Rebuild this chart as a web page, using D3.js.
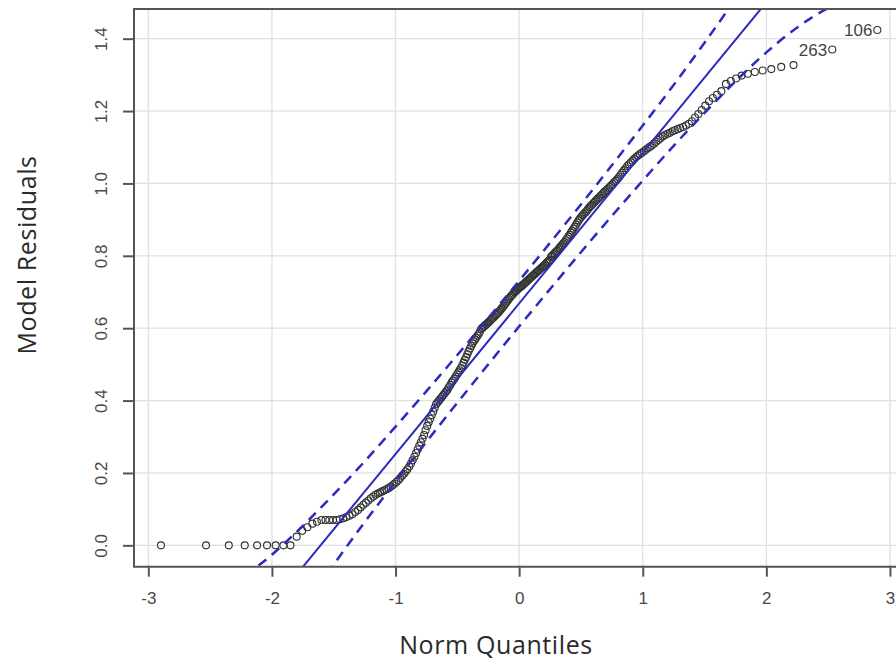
<!DOCTYPE html>
<html>
<head>
<meta charset="utf-8">
<script src="https://cdn.jsdelivr.net/npm/d3@7"></script>
<style>
  html, body { margin: 0; padding: 0; background: #ffffff; }
  svg { display: block; }
</style>
</head>
<body>
<div id="chart"></div>
<script>
// ---------------- DATA ----------------
// Theoretical normal quantiles (x) of the sorted residuals
const normQuantiles = [
  -2.898,-2.533,-2.349,-2.22,-2.12,-2.04,-1.97,-1.907,-1.85,-1.80,
  -1.755,-1.713,-1.673,-1.636,-1.60,-1.567,-1.536,-1.506,-1.477,-1.45,
  -1.423,-1.398,-1.373,-1.349,-1.326,-1.303,-1.282,-1.26,-1.24,-1.22,
  -1.20,-1.18,-1.162,-1.143,-1.126,-1.108,-1.091,-1.073,-1.057,-1.04,
  -1.024,-1.009,-0.993,-0.977,-0.962,-0.947,-0.932,-0.918,-0.904,-0.889,
  -0.875,-0.862,-0.848,-0.834,-0.821,-0.808,-0.795,-0.782,-0.769,-0.757,
  -0.744,-0.732,-0.72,-0.707,-0.695,-0.683,-0.672,-0.66,-0.648,-0.637,
  -0.625,-0.614,-0.602,-0.591,-0.58,-0.569,-0.557,-0.546,-0.536,-0.524,
  -0.514,-0.503,-0.492,-0.482,-0.471,-0.46,-0.45,-0.44,-0.429,-0.419,
  -0.409,-0.398,-0.388,-0.378,-0.367,-0.357,-0.347,-0.337,-0.327,-0.318,
  -0.307,-0.297,-0.287,-0.278,-0.268,-0.258,-0.249,-0.239,-0.229,-0.220,
  -0.210,-0.200,-0.191,-0.181,-0.171,-0.162,-0.152,-0.143,-0.133,-0.124,
  -0.114,-0.104,-0.095,-0.085,-0.076,-0.066,-0.057,-0.047,-0.038,-0.028,
  -0.019,-0.0095,0,
  0.0095,0.019,0.028,0.038,0.047,0.057,0.066,0.076,0.085,0.095,
  0.104,0.114,0.124,0.133,0.143,0.152,0.162,0.171,0.181,0.191,
  0.200,0.210,0.220,0.229,0.239,0.249,0.258,0.268,0.278,0.287,
  0.297,0.307,0.318,0.327,0.337,0.347,0.357,0.367,0.378,0.388,
  0.398,0.409,0.419,0.429,0.44,0.45,0.46,0.471,0.482,0.492,
  0.503,0.514,0.524,0.536,0.546,0.557,0.569,0.58,0.591,0.602,
  0.614,0.625,0.637,0.648,0.66,0.672,0.683,0.695,0.707,0.72,
  0.732,0.744,0.757,0.769,0.782,0.795,0.808,0.821,0.834,0.848,
  0.862,0.875,0.889,0.904,0.918,0.932,0.947,0.962,0.977,0.993,
  1.009,1.024,1.04,1.057,1.073,1.091,1.108,1.126,1.143,1.162,
  1.18,1.20,1.22,1.24,1.26,1.282,1.303,1.326,1.349,1.373,
  1.398,1.423,1.45,1.477,1.506,1.536,1.567,1.60,1.636,1.673,
  1.713,1.755,1.80,1.85,1.907,1.97,2.04,2.12,2.22,
  2.533,2.898
];
// Sorted model residuals (y)
const modelResiduals = [
  0,0,0,0,0,0,0,0,0,0.024,
  0.04,0.05,0.06,0.065,0.07,0.07,0.07,0.07,0.07,0.072,
  0.075,0.078,0.082,0.086,0.092,0.098,0.105,0.112,0.118,0.124,
  0.13,0.135,0.14,0.143,0.146,0.149,0.152,0.155,0.158,0.162,
  0.166,0.170,0.175,0.18,0.186,0.192,0.198,0.204,0.21,0.218,
  0.226,0.235,0.245,0.255,0.265,0.275,0.285,0.295,0.305,0.318,
  0.33,0.34,0.35,0.36,0.37,0.38,0.39,0.395,0.40,0.405,
  0.41,0.415,0.42,0.425,0.43,0.437,0.443,0.45,0.455,0.46,
  0.466,0.472,0.478,0.484,0.49,0.497,0.505,0.513,0.52,0.528,
  0.536,0.544,0.551,0.558,0.564,0.569,0.574,0.579,0.584,0.59,
  0.598,0.601,0.604,0.607,0.610,0.613,0.616,0.619,0.623,0.626,
  0.629,0.632,0.636,0.639,0.642,0.646,0.650,0.654,0.658,0.662,
  0.667,0.671,0.676,0.680,0.684,0.688,0.692,0.695,0.699,0.702,
  0.705,0.708,0.711,
  0.714,0.716,0.719,0.722,0.725,0.728,0.731,0.734,0.737,0.740,
  0.743,0.746,0.749,0.752,0.755,0.758,0.761,0.764,0.767,0.770,
  0.773,0.776,0.780,0.783,0.786,0.789,0.797,0.800,0.804,0.807,
  0.811,0.814,0.818,0.822,0.826,0.830,0.834,0.838,0.843,0.848,
  0.853,0.858,0.864,0.869,0.875,0.880,0.886,0.892,0.898,0.903,
  0.908,0.912,0.916,0.920,0.924,0.929,0.934,0.938,0.942,0.946,
  0.950,0.954,0.958,0.962,0.966,0.970,0.974,0.978,0.982,0.986,
  0.990,0.994,0.998,1.003,1.007,1.012,1.018,1.024,1.030,1.036,
  1.042,1.048,1.053,1.058,1.063,1.068,1.073,1.077,1.081,1.085,
  1.089,1.093,1.097,1.101,1.105,1.110,1.115,1.120,1.125,1.130,
  1.134,1.137,1.140,1.144,1.147,1.150,1.153,1.156,1.160,1.165,
  1.172,1.182,1.192,1.203,1.215,1.227,1.236,1.245,1.255,1.275,
  1.283,1.290,1.298,1.303,1.308,1.312,1.316,1.322,1.327,
  1.37,1.424
];
// Labelled outliers
const outlierLabels = ["263", "106"];
const outlierQuantiles = [2.533, 2.898];
const outlierResiduals = [1.37, 1.424];

// Reference line (two end points) and confidence envelope
const refLineQ = [-3.2, 3.2];
const refLineV = [-0.663, 2.0];
const envelopeQ     = [-2.5, -2.25, -2.0, -1.75, -1.5, -1.25, -1.0, -0.75, -0.5, -0.25, 0, 0.25, 0.5, 0.75, 1.0, 1.25, 1.5, 1.75, 2.0, 2.25, 2.5, 2.75];
const envelopeUpper = [-0.187, -0.095, -0.026, 0.054, 0.141, 0.232, 0.328, 0.426, 0.526, 0.628, 0.731, 0.836, 0.942, 1.050, 1.160, 1.272, 1.389, 1.510, 1.638, 1.777, 1.933, 2.112];
const envelopeLower = [-0.597, -0.441, -0.302, -0.174, -0.053, 0.064, 0.176, 0.286, 0.394, 0.500, 0.605, 0.708, 0.810, 0.910, 1.008, 1.104, 1.195, 1.282, 1.362, 1.431, 1.484, 1.512];

// Axis ticks
const xTicks = [-3, -2, -1, 0, 1, 2, 3];
const xTickLabels = ["-3", "-2", "-1", "0", "1", "2", "3"];
const yTicks = [0.0, 0.2, 0.4, 0.6, 0.8, 1.0, 1.2, 1.4];
const yTickLabels = ["0.0", "0.2", "0.4", "0.6", "0.8", "1.0", "1.2", "1.4"];
const xTitle = "Norm Quantiles";
const yTitle = "Model Residuals";

// ---------------- DRAWING ----------------
(function () {
const W = 896, H = 664;
const pL = 134, pR = 904.3, pT = 9, pB = 566.7;
const blue = "#2b2bbd";

const x = d3.scaleLinear().domain([-3.116, 3.116]).range([pL, pR]);
const y = d3.scaleLinear().domain([-0.059, 1.482]).range([pB, pT]);

const svg = d3.select("#chart").append("svg")
  .attr("width", W).attr("height", H)
  .style("background", "#fff");

svg.append("defs").append("clipPath").attr("id", "plotclip")
  .append("rect").attr("x", pL).attr("y", pT)
  .attr("width", pR - pL).attr("height", pB - pT);

// grid
const grid = svg.append("g").attr("stroke", "#e0e0e0").attr("stroke-width", 1.3);
grid.selectAll("line.gx").data(xTicks).join("line").attr("class", "gx")
  .attr("x1", d => x(d)).attr("x2", d => x(d)).attr("y1", pT).attr("y2", pB);
grid.selectAll("line.gy").data(yTicks).join("line").attr("class", "gy")
  .attr("x1", pL).attr("x2", pR).attr("y1", d => y(d)).attr("y2", d => y(d));

const plot = svg.append("g").attr("clip-path", "url(#plotclip)");

// points
plot.append("g").selectAll("circle").data(normQuantiles.map((q, i) => [q, modelResiduals[i]]))
  .join("circle")
  .attr("cx", d => x(d[0])).attr("cy", d => y(d[1])).attr("r", 3.5)
  .attr("fill", "none").attr("stroke", "#333").attr("stroke-width", 1.1);

// reference line
const lineGen = d3.line().x(d => x(d[0])).y(d => y(d[1]));
plot.append("path")
  .attr("d", lineGen(refLineQ.map((q, i) => [q, refLineV[i]])))
  .attr("fill", "none").attr("stroke", blue).attr("stroke-width", 2);

// envelope
const curveGen = d3.line().x(d => x(d[0])).y(d => y(d[1])).curve(d3.curveMonotoneX);
[envelopeUpper, envelopeLower].forEach(arr => {
  plot.append("path")
    .attr("d", curveGen(envelopeQ.map((q, i) => [q, arr[i]])))
    .attr("fill", "none").attr("stroke", blue).attr("stroke-width", 2.5)
    .attr("stroke-dasharray", "10,7");
});

// outlier labels
svg.append("g").selectAll("text").data(outlierLabels).join("text")
  .attr("x", (d, i) => x(outlierQuantiles[i]) - 5)
  .attr("y", (d, i) => y(outlierResiduals[i]) + 6)
  .attr("text-anchor", "end")
  .attr("font-family", "Liberation Sans, Arial, sans-serif")
  .attr("font-size", 17).attr("fill", "#444")
  .text(d => d);

// frame
svg.append("path")
  .attr("d", `M${pR},${pT}H${pL}V${pB}H${pR}`)
  .attr("fill", "none").attr("stroke", "#555").attr("stroke-width", 2);

// x axis
const xAxis = svg.append("g").attr("transform", `translate(0,${pB})`)
  .call(d3.axisBottom(x).tickValues(xTicks).tickSize(10).tickPadding(15)
    .tickFormat((d, i) => xTickLabels[i]));
xAxis.select(".domain").remove();
xAxis.selectAll(".tick line").attr("stroke", "#555").attr("stroke-width", 2);
xAxis.selectAll(".tick text").attr("font-family", "Liberation Sans, Arial, sans-serif")
  .attr("font-size", 17).attr("fill", "#484848");

// y axis
const yAxis = svg.append("g").attr("transform", `translate(${pL},0)`)
  .call(d3.axisLeft(y).tickValues(yTicks).tickSize(11).tickFormat((d, i) => yTickLabels[i]));
yAxis.select(".domain").remove();
yAxis.selectAll(".tick line").attr("stroke", "#555").attr("stroke-width", 2);
yAxis.selectAll(".tick text")
  .attr("font-family", "Liberation Sans, Arial, sans-serif")
  .attr("font-size", 17).attr("fill", "#484848")
  .attr("text-anchor", "middle").attr("x", 0).attr("dy", 0)
  .attr("transform", "translate(-27,0) rotate(-90)")
  .attr("y", 0);

// titles
svg.append("text")
  .attr("x", 496).attr("y", 654)
  .attr("text-anchor", "middle")
  .attr("font-family", "Open Sans, Noto Sans, sans-serif")
  .attr("font-size", 25).attr("letter-spacing", "0.6px").attr("fill", "#2a2a2a")
  .text(xTitle);

svg.append("text")
  .attr("transform", "translate(36,255) rotate(-90)")
  .attr("text-anchor", "middle")
  .attr("font-family", "Open Sans, Noto Sans, sans-serif")
  .attr("font-size", 25).attr("letter-spacing", "0.6px").attr("fill", "#2a2a2a")
  .text(yTitle);
})();
</script>
</body>
</html>
